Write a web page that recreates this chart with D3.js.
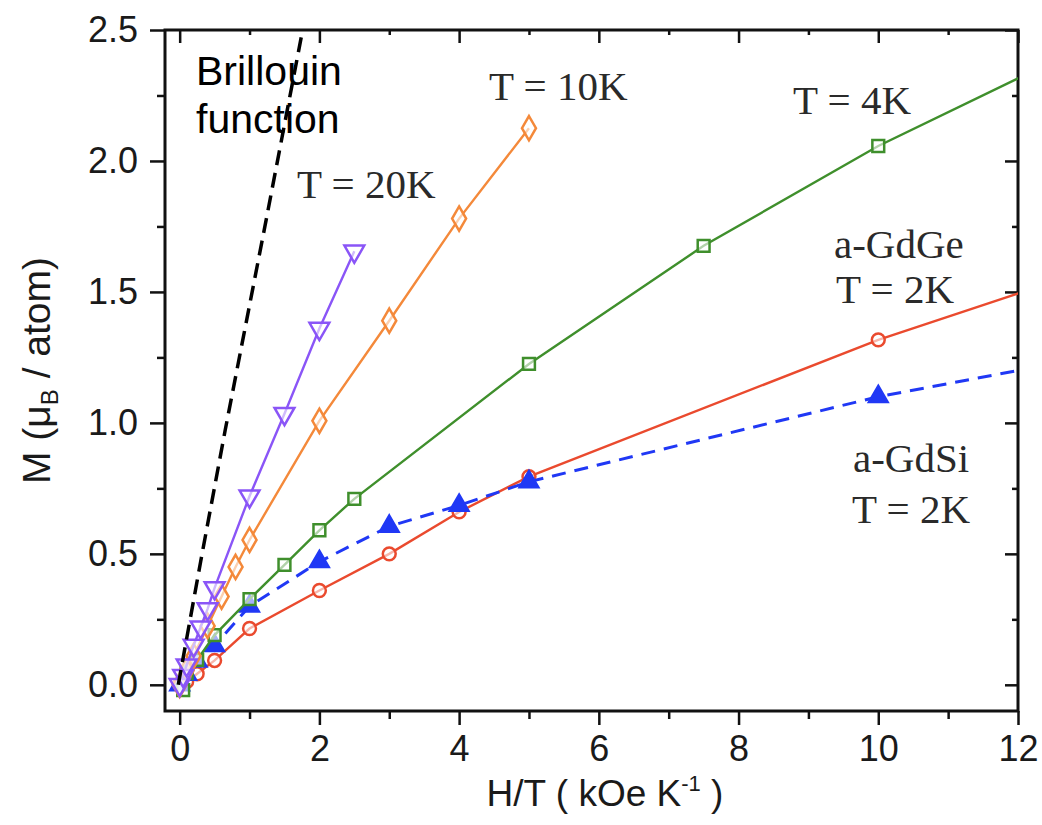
<!DOCTYPE html>
<html>
<head>
<meta charset="utf-8">
<script src="https://cdn.jsdelivr.net/npm/d3@7"></script>
<style>
  html, body { margin: 0; padding: 0; background: #fff; overflow: hidden; }
  svg { display: block; }
  .tick text { font-family: "Liberation Sans", Arial, sans-serif; font-size: 36px; fill: #1a1a1a; }
  .tick line { stroke: #111; stroke-width: 2.5; }
  .lbl { font-family: "Liberation Serif", "Times New Roman", serif; font-size: 41px; fill: #2a2a2a; }
</style>
<script>
// ---- data ----
var brillX = [-0.02, 0.3, 0.65, 1.22, 1.76];
var brillM = [0, 0.47, 0.97, 1.75, 2.5];

var t20X = [0, 0.05, 0.1, 0.2, 0.3, 0.4, 0.5, 1, 1.5, 2, 2.5];
var t20M = [0, 0.035, 0.075, 0.15, 0.22, 0.29, 0.37, 0.72, 1.035, 1.36, 1.655];

var t10X = [0, 0.1, 0.2, 0.4, 0.6, 0.8, 1, 2, 3, 4, 5];
var t10M = [0, 0.055, 0.11, 0.225, 0.337, 0.45, 0.553, 1.008, 1.39, 1.78, 2.125];

var t4X = [0.05, 0.1, 0.25, 0.5, 1, 1.5, 2, 2.5, 5, 7.5, 10, 12.5];
var t4M = [-0.02, 0.045, 0.095, 0.19, 0.327, 0.458, 0.59, 0.71, 1.225, 1.676, 2.057, 2.38];

var geX = [0, 0.1, 0.25, 0.5, 1, 2, 3, 4, 5, 10, 15];
var geM = [0, 0.012, 0.042, 0.093, 0.215, 0.36, 0.50, 0.66, 0.795, 1.317, 1.76];

var siX = [0, 0.1, 0.25, 0.5, 1, 2, 3, 4, 5, 10, 15];
var siM = [0, 0.04, 0.09, 0.15, 0.30, 0.47, 0.605, 0.685, 0.775, 1.10, 1.35];

var xMajor = [0, 2, 4, 6, 8, 10, 12];
var xMinor = [1, 3, 5, 7, 9, 11];
var yMajor = [0, 0.5, 1.0, 1.5, 2.0, 2.5];
var yMinor = [0.25, 0.75, 1.25, 1.75, 2.25];

document.addEventListener("DOMContentLoaded", function () {
  var width = 1042;
  var height = 825;
  var svg = d3.select("body").append("svg").attr("width", width).attr("height", height);

  var margin = { top: 30, right: 24, bottom: 114, left: 165 };
  var innerWidth = width - margin.left - margin.right;
  var innerHeight = height - margin.top - margin.bottom;

  var xScale = d3.scaleLinear().domain([-0.21, 12]).range([0, innerWidth]);
  var yScale = d3.scaleLinear().domain([-0.1, 2.5]).range([innerHeight, 0]);

  var g = svg.append("g")
    .attr("transform", "translate(" + margin.left + "," + margin.top + ")");

  g.append("clipPath").attr("id", "plot")
    .append("rect").attr("width", innerWidth).attr("height", innerHeight);

  // axes
  var fmtY = d3.format(".1f");

  g.append("g").attr("transform", "translate(0," + innerHeight + ")")
    .call(d3.axisBottom(xScale).tickValues(xMajor).tickSize(14).tickPadding(10).tickFormat(d3.format("d")));
  g.append("g").attr("class", "bare").attr("transform", "translate(0," + innerHeight + ")")
    .call(d3.axisBottom(xScale).tickValues(xMinor).tickSize(8));

  g.append("g")
    .call(d3.axisLeft(yScale).tickValues(yMajor).tickSize(15).tickPadding(12).tickFormat(fmtY));
  g.append("g").attr("class", "bare")
    .call(d3.axisLeft(yScale).tickValues(yMinor).tickSize(8));

  g.append("g").attr("class", "bare")
    .call(d3.axisTop(xScale).tickValues(xMajor).tickSize(-13));
  g.append("g").attr("class", "bare")
    .call(d3.axisTop(xScale).tickValues(xMinor).tickSize(-5));

  g.append("g").attr("class", "bare").attr("transform", "translate(" + innerWidth + ",0)")
    .call(d3.axisRight(yScale).tickValues(yMajor).tickSize(-13));
  g.append("g").attr("class", "bare").attr("transform", "translate(" + innerWidth + ",0)")
    .call(d3.axisRight(yScale).tickValues(yMinor).tickSize(-6));

  g.selectAll(".domain").remove();
  g.selectAll(".bare text").remove();

  // frame
  g.append("rect")
    .attr("width", innerWidth).attr("height", innerHeight)
    .attr("fill", "none").attr("stroke", "#111").attr("stroke-width", 3);

  // series
  var line = d3.line()
    .x(function (d) { return xScale(d[0]); })
    .y(function (d) { return yScale(d[1]); });

  var plot = g.append("g").attr("clip-path", "url(#plot)");

  function pairs(xs, ms) {
    return xs.map(function (x, i) { return [x, ms[i]]; });
  }

  var series = [
    { xs: geX, ms: geM, color: "#ea4a2e", dash: null, shape: d3.symbolCircle, size: 130, fill: "none" },
    { xs: siX, ms: siM, color: "#2038f5", dash: "14,9", shape: d3.symbolTriangle, size: 150, fill: "#2038f5" },
    { xs: t4X, ms: t4M, color: "#3f8f2c", dash: null, shape: d3.symbolSquare, size: 140, fill: "none" },
    { xs: t10X, ms: t10M, color: "#f4893a", dash: null, shape: d3.symbolDiamond, size: 170, fill: "none" },
    { xs: t20X, ms: t20M, color: "#8a55f7", dash: null, shape: "down", size: 170, fill: "none" }
  ];

  series.forEach(function (s) {
    var data = pairs(s.xs, s.ms);
    plot.append("path")
      .datum(data)
      .attr("d", line)
      .attr("fill", "none")
      .attr("stroke", s.color)
      .attr("stroke-width", s.dash ? 3 : 2.4)
      .attr("stroke-dasharray", s.dash);

    var sym = s.shape === "down" ? d3.symbolTriangle : s.shape;
    plot.selectAll(null)
      .data(data.filter(function (d) { return d[0] <= 12; }))
      .enter()
      .append("path")
      .attr("d", d3.symbol().type(sym).size(s.size))
      .attr("transform", function (d) {
        return "translate(" + xScale(d[0]) + "," + yScale(d[1]) + ")" + (s.shape === "down" ? " rotate(180)" : "");
      })
      .attr("fill", s.fill === "none" ? "#fff" : s.fill)
      .attr("fill-opacity", s.fill === "none" ? 0.6 : 1)
      .attr("stroke", s.color)
      .attr("stroke-width", 2.5);
  });

  // Brillouin function
  plot.append("path")
    .datum(pairs(brillX, brillM))
    .attr("d", line)
    .attr("fill", "none")
    .attr("stroke", "#000")
    .attr("stroke-width", 3.5)
    .attr("stroke-dasharray", "15,8");

  // annotations
  var sans = "'Liberation Sans', Arial, sans-serif";
  svg.append("text").attr("x", 196).attr("y", 85)
    .attr("font-family", sans).attr("font-size", 41).attr("fill", "#000").text("Brillouin");
  svg.append("text").attr("x", 196).attr("y", 133)
    .attr("font-family", sans).attr("font-size", 41).attr("fill", "#000").text("function");

  var labels = [
    ["T = 20K", 297, 198],
    ["T = 10K", 489, 100],
    ["T = 4K", 793, 114],
    ["a-GdGe", 834, 258],
    ["T = 2K", 836, 303],
    ["a-GdSi", 853, 472],
    ["T = 2K", 852, 523]
  ];
  labels.forEach(function (l) {
    svg.append("text").attr("class", "lbl").attr("x", l[1]).attr("y", l[2]).text(l[0]);
  });

  // axis titles
  var xt = svg.append("text")
    .attr("x", 605).attr("y", 806)
    .attr("text-anchor", "middle")
    .attr("font-family", sans).attr("font-size", 37).attr("fill", "#1a1a1a");
  xt.append("tspan").text("H/T ( kOe K");
  xt.append("tspan").attr("font-size", 22).attr("dy", -15).text("-1");
  xt.append("tspan").attr("dy", 15).text(" )");

  var yt = svg.append("text")
    .attr("transform", "translate(50," + (margin.top + innerHeight / 2) + ") rotate(-90)")
    .attr("text-anchor", "middle")
    .attr("font-family", sans).attr("font-size", 39).attr("fill", "#1a1a1a");
  yt.append("tspan").text("M (μ");
  yt.append("tspan").attr("font-size", 24).attr("dy", 8).text("B");
  yt.append("tspan").attr("dy", -8).text(" / atom)");
});
</script>
</head>
<body>
</body>
</html>
